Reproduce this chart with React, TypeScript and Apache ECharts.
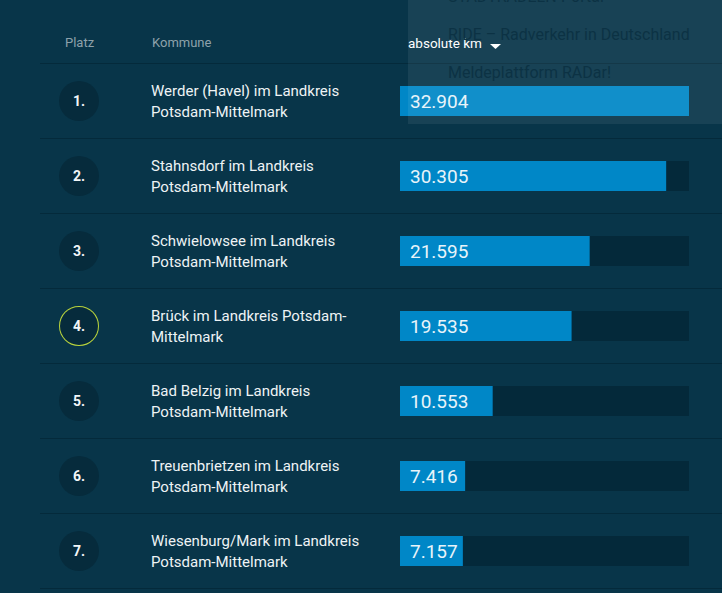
import React, { useEffect, useRef } from "react";
import * as echarts from "echarts";

const ranks = ["1.", "2.", "3.", "4.", "5.", "6.", "7."];
const communes = [
  "Werder (Havel) im Landkreis\nPotsdam-Mittelmark",
  "Stahnsdorf im Landkreis\nPotsdam-Mittelmark",
  "Schwielowsee im Landkreis\nPotsdam-Mittelmark",
  "Brück im Landkreis Potsdam-\nMittelmark",
  "Bad Belzig im Landkreis\nPotsdam-Mittelmark",
  "Treuenbrietzen im Landkreis\nPotsdam-Mittelmark",
  "Wiesenburg/Mark im Landkreis\nPotsdam-Mittelmark",
];
const kmValues = [32904, 30305, 21595, 19535, 10553, 7416, 7157];
const headers = ["Platz", "Kommune", "absolute km"];
const menuItems = ["STADTRADELN-Portal", "RIDE – Radverkehr in Deutschland", "Meldeplattform RADar!"];
const highlightedRank = "4.";

const BG = "#083549";
const FONT = "Roboto, 'Noto Sans', sans-serif";

function fmt(v: number): string {
  return String(v).replace(/\B(?=(\d{3})+(?!\d))/g, ".");
}

export default function App() {
  const ref = useRef<HTMLDivElement>(null);
  useEffect(() => {
    if (!ref.current) return;
    const chart = echarts.init(ref.current, null, { renderer: "svg" });
    const top = 63.5;
    const bottom = 593 - 588.5;
    chart.setOption({
      animation: false,
      backgroundColor: BG,
      textStyle: { fontFamily: FONT },
      grid: [
        { left: 40, right: 0, top, bottom, outerBoundsMode: "none", containLabel: false },
        { left: 400, right: 33, top, bottom, outerBoundsMode: "none", containLabel: false },
      ],
      xAxis: [
        { gridIndex: 0, type: "value", min: 0, max: 1, show: false },
        { gridIndex: 1, type: "value", min: 0, max: Math.max(...kmValues), show: false },
      ],
      yAxis: [
        {
          gridIndex: 0,
          type: "category",
          inverse: true,
          data: ranks,
          axisLine: { show: false },
          axisTick: { show: false },
          axisLabel: { show: false },
          splitLine: { show: true, interval: 0, lineStyle: { color: "#042a3b", width: 1 } },
        },
        {
          gridIndex: 1,
          type: "category",
          position: "left",
          offset: 0,
          inverse: true,
          data: ranks,
          axisLine: { show: false },
          axisTick: { show: false },
          splitLine: { show: false },
          axisLabel: {
            margin: 321,
            align: "center",
            formatter: (v: string) => (v === highlightedRank ? `{hi|${v}}` : `{num|${v}}`),
            rich: {
              num: {
                width: 40,
                height: 40,
                lineHeight: 40,
                borderRadius: 20,
                align: "center",
                backgroundColor: "#062b3c",
                color: "#f2f6f8",
                fontSize: 14,
                fontWeight: "bold",
                fontFamily: FONT,
              },
              hi: {
                width: 38,
                height: 38,
                lineHeight: 38,
                borderRadius: 20,
                align: "center",
                backgroundColor: "#062b3c",
                borderColor: "#b8d23c",
                borderWidth: 1,
                color: "#f2f6f8",
                fontSize: 14,
                fontWeight: "bold",
                fontFamily: FONT,
              },
            },
          },
        },
        {
          gridIndex: 1,
          type: "category",
          position: "left",
          offset: 0,
          inverse: true,
          data: communes,
          axisLine: { show: false },
          axisTick: { show: false },
          splitLine: { show: false },
          axisLabel: {
            margin: 249,
            align: "left",
            color: "#eef3f5",
            fontSize: 15,
            lineHeight: 21,
            fontFamily: FONT,
          },
        },
      ],
      series: [
        {
          type: "bar",
          xAxisIndex: 1,
          yAxisIndex: 1,
          data: kmValues,
          barWidth: 30,
          showBackground: true,
          backgroundStyle: { color: "#04293a" },
          itemStyle: { color: "#0087c7" },
          label: {
            show: true,
            position: "insideLeft",
            distance: 10,
            color: "#e8f4fa",
            fontSize: 19,
            fontFamily: FONT,
            formatter: (p: any) => fmt(p.value),
          },
        },
      ],
      graphic: [
        { type: "text", left: 65, top: 36, style: { text: headers[0], fill: "#8ea2ab", fontSize: 13, fontFamily: FONT } },
        { type: "text", left: 152, top: 36, style: { text: headers[1], fill: "#8ea2ab", fontSize: 13, fontFamily: FONT } },
        { type: "text", left: 408, top: 36, style: { text: headers[2], fill: "#ffffff", fontSize: 13.5, fontFamily: FONT } },
        {
          type: "polygon",
          shape: { points: [[490, 44], [501, 44], [495.5, 49]] },
          style: { fill: "#ffffff" },
        },
        {
          type: "rect",
          z: 100,
          shape: { x: 408, y: 0, width: 314, height: 124 },
          style: { fill: "rgba(255,255,255,0.065)" },
        },
        ...menuItems.map((t, i) => ({
          type: "text",
          z: 101,
          left: 448,
          top: -12 + i * 38,
          style: { text: t, fill: "#0c3244", fontSize: 16, fontFamily: FONT },
        })),
      ],
    });
    return () => chart.dispose();
  }, []);
  return (
    <div
      ref={ref}
      style={{ position: "fixed", left: 0, top: 0, width: 722, height: 593, background: BG }}
    />
  );
}
